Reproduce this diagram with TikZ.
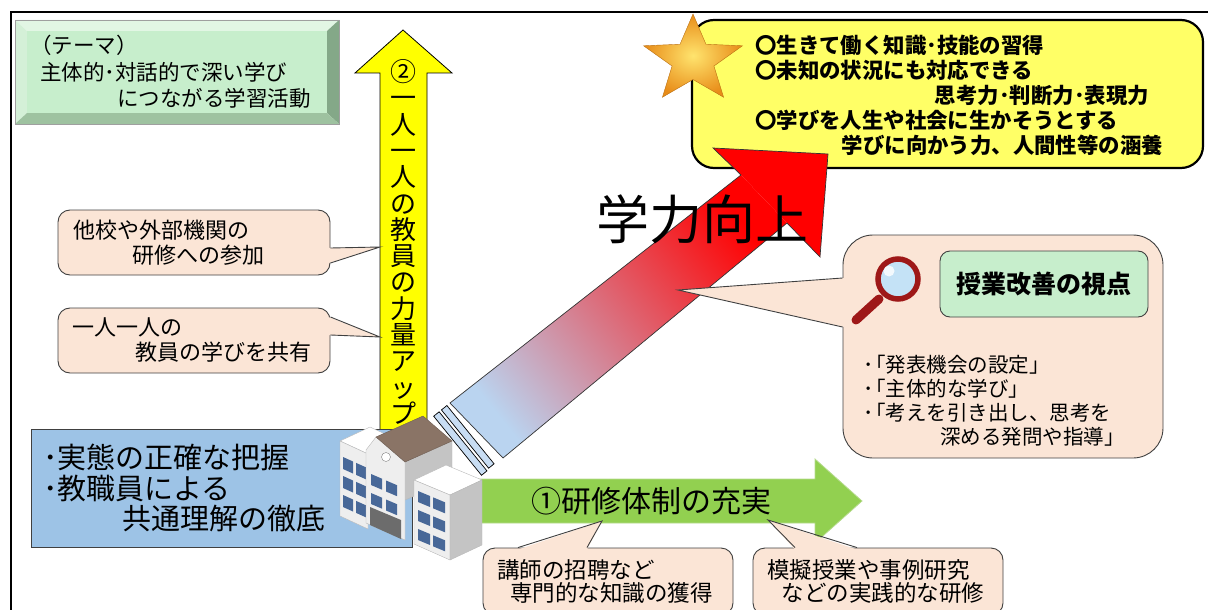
\documentclass[tikz,border=0pt]{standalone}
\usepackage{fontspec}
\setmainfont{Noto Sans CJK JP}
\usetikzlibrary{calc}

\definecolor{peach}{RGB}{251,229,214}
\definecolor{edge}{RGB}{64,64,64}
\definecolor{mint}{RGB}{199,238,204}
\definecolor{mintlight}{RGB}{226,246,228}
\definecolor{mintside}{RGB}{212,240,215}
\definecolor{mintdark}{RGB}{132,168,136}
\definecolor{mintlow}{RGB}{158,194,160}
\definecolor{note}{RGB}{255,255,102}
\definecolor{upyellow}{RGB}{255,255,0}
\definecolor{leaf}{RGB}{146,208,80}
\definecolor{leafedge}{RGB}{182,218,142}
\definecolor{sky}{RGB}{157,195,230}
\definecolor{beamblue}{RGB}{186,212,240}
\definecolor{beammid}{RGB}{214,108,140}
\definecolor{roofbrown}{RGB}{138,116,102}
\definecolor{wallwhite}{RGB}{238,238,238}
\definecolor{wallgrey}{RGB}{196,196,196}
\definecolor{pane}{RGB}{72,104,152}
\definecolor{doorgrey}{RGB}{108,108,108}
\definecolor{loupe}{RGB}{158,24,24}
\definecolor{glass}{RGB}{196,226,246}
\definecolor{stargold}{RGB}{255,228,110}
\definecolor{starorange}{RGB}{232,140,24}

\begin{document}
\begin{tikzpicture}[x=1pt, y=-1pt,
    note/.style={draw=edge, line width=0.9pt, fill=peach, rounded corners=12pt, align=left,
      inner ysep=0pt, font=\fontsize{22}{25}\selectfont},
    tailfill/.style={fill=peach},
    tailline/.style={draw=edge, line width=0.9pt},
    wall/.style={fill=wallwhite, draw=gray!55, line width=0.4pt},
    sidewall/.style={fill=wallgrey, draw=gray!55, line width=0.4pt},
    window/.style={fill=pane},
    stripe/.style={fill=beamblue!80!white, draw=black, line width=0.7pt}
  ]
  \useasboundingbox (0,0) rectangle (1208,610);
  \draw[line width=2.5pt] (1212,12) -- (11,12) -- (11,614);

  % theme plate
  \fill[mintlight] (15,20) -- (339,20) -- (327,31) -- (27,31) -- cycle;
  \fill[mintside] (15,20) -- (27,31) -- (27,113) -- (15,124) -- cycle;
  \fill[mintdark] (339,20) -- (339,124) -- (327,113) -- (327,31) -- cycle;
  \fill[mintlow] (15,124) -- (27,113) -- (327,113) -- (339,124) -- cycle;
  \node[fill=mint, minimum width=300pt, minimum height=82pt, text width=274pt, inner xsep=13pt,
    inner ysep=0pt, align=left, font=\fontsize{21.5}{26.5}\selectfont] (theme) at (177,72)
    {\hspace*{-0.45em}（テーマ）\\主体的･対話的で深い学び\\\hspace*{3.6em}につながる学習活動};
  \draw[edge!50, line width=0.6pt] (15,20) rectangle (339,124);

  % upward arrow
  \filldraw[fill=upyellow, draw=black, line width=0.8pt] (380,430) -- (380,73) -- (355,73) -- (403,30)
    -- (452,73) -- (427,73) -- (427,430) -- cycle;
  \node[align=center, inner sep=0pt, font=\fontsize{26}{26.3}\selectfont] (staff) at (403.5,242)
    {②\\一\\人\\一\\人\\の\\教\\員\\の\\力\\量\\ア\\ッ\\プ};
  \coordinate (tipvisit) at (380,247);
  \coordinate (tipshare) at (380,337);

  \node[note, minimum width=272pt, minimum height=65pt, text width=242pt, inner xsep=15pt] (visit)
    at (194,242.5) {他校や外部機関の\\\hspace*{2.7em}研修への参加};
  \fill[tailfill] ($(visit.east)+(-2,5.5)$) -- (tipvisit) -- ($(visit.east)+(-2,20.5)$) -- cycle;
  \draw[tailline] ($(visit.east)+(0,5.5)$) -- (tipvisit) -- ($(visit.east)+(0,20.5)$);

  \node[note, minimum width=272pt, minimum height=65pt, text width=244pt, inner xsep=14pt] (share)
    at (194,340.5) {一人一人の\\\hspace*{2.9em}教員の学びを共有};
  \fill[tailfill] ($(share.east)+(-2,-23.5)$) -- (tipshare) -- ($(share.east)+(-2,-5.5)$) -- cycle;
  \draw[tailline] ($(share.east)+(0,-23.5)$) -- (tipshare) -- ($(share.east)+(0,-5.5)$);

  \node[draw=edge, line width=0.9pt, fill=sky, minimum width=381pt, minimum height=118pt,
    text width=357pt, inner xsep=12pt, inner ysep=0pt, align=left,
    font=\fontsize{29}{30.5}\selectfont] (fact) at (221.5,488)
    {･実態の正確な把握\\･教職員による\\\hspace*{2.75em}共通理解の徹底};

  % training arrow
  \filldraw[fill=leaf, draw=leafedge, line width=0.8pt] (470,479) -- (815,479) -- (815,459) -- (862,501)
    -- (815,543) -- (815,523) -- (470,523) -- cycle;
  \node[inner sep=0pt, font=\fontsize{30}{30}\selectfont] (train) at (651,501) {①研修体制の充実};

  % goals
  \node[draw=black, line width=2.2pt, fill=note, rounded corners=22pt, minimum width=511pt,
    minimum height=148pt] (goal) at (947.5,94) {};
  \node[anchor=west, inner sep=0pt, align=left, font=\bfseries\fontsize{21.4}{25}\selectfont] (goaltext)
    at (755,95) {〇生きて働く知識･技能の習得\\〇未知の状況にも対応できる\\\hspace*{8.4em}思考力･判断力･表現力\\
    〇学びを人生や社会に生かそうとする\\\hspace*{4.05em}学びに向かう力、人間性等の涵養};
  \shade[inner color=stargold, outer color=starorange, draw=starorange!80!black, line width=0.4pt]
    plot[variable=\k, samples at={0,...,9}]
    ({693+ifthenelse(mod(\k,2)==0,52,22)*cos(90+36*\k)}, {60-ifthenelse(mod(\k,2)==0,46,19.5)*sin(90+36*\k)})
    -- cycle;

  % rising beam
  \shade[top color=red, middle color=beammid, bottom color=beamblue, shading angle=-51]
    (450,403) -- (741,175) -- (787,223) -- (503,458) -- cycle;
  \fill[red] (741,175) -- (713,148) -- (828,154) -- (820,257) -- (787,223) -- cycle;
  \draw[line width=0.7pt, black!80] (503,458) -- (450,403) -- (741,175) -- (713,148) -- (828,154)
    -- (820,257) -- (787,223) -- cycle;
  \begin{scope}[shift={(450,403)}, rotate=39]
    \draw[stripe] (-11,0) rectangle (-4,75);
    \draw[stripe] (-21,0) rectangle (-14,76);
  \end{scope}
  \node[inner sep=0pt, font=\fontsize{53}{53}\selectfont] (rise) at (702,219) {学力向上};

  % viewpoint callout
  \coordinate (tipview) at (678,290);
  \node[note, minimum width=320pt, minimum height=223pt, rounded corners=30pt] (view) at (1003,346.5) {};
  \fill[tailfill] ($(view.west)+(2,-68.5)$) -- (tipview) -- ($(view.west)+(2,-19.5)$) -- cycle;
  \draw[tailline] ($(view.west)+(0,-68.5)$) -- (tipview) -- ($(view.west)+(0,-19.5)$);
  \node[draw=edge, line width=0.9pt, fill=mint, rounded corners=10pt, minimum width=208pt,
    minimum height=66pt, font=\bfseries\fontsize{25}{25}\selectfont] (viewtitle) at (1044,284) {授業改善の視点};
  \node[anchor=west, inner sep=0pt, align=left, font=\fontsize{20.5}{24}\selectfont] (viewlist) at (863,401)
    {･\kern-0.4em「発表機会の設定」\\･\kern-0.4em「主体的な学び」\\･\kern-0.4em「考えを引き出し、思考を\\
    \hspace*{3.75em}深める発問や指導」};
  \draw[loupe, line width=9pt, line cap=round] (879,299) -- (856,320);
  \filldraw[fill=glass, draw=loupe, line width=5.5pt] (898,279) circle[radius=20];
  \fill[white, opacity=0.8] (889,271) circle[radius=5.5];

  % school
  \filldraw[wall, fill=white] (340,441) -- (370,427) -- (398,440) -- (368,454) -- cycle;
  \filldraw[wall] (340,441) -- (368,454) -- (368,529) -- (340,516) -- cycle;
  \foreach \r in {0,1,2}
    \foreach \c in {0,1}
      \fill[window] ({343+13*\c},{457+19*\r+5.85*\c}) -- ++(10,4.5) -- ++(0,12) -- ++(-10,-4.5) -- cycle;
  \filldraw[sidewall] (405,462) -- (452,441) -- (452,480) -- (405,500) -- cycle;
  \filldraw[wall] (366,450) -- (376,437) -- (405,462) -- (405,540) -- (366,523) -- cycle;
  \filldraw[fill=roofbrown, draw=roofbrown!80!black, line width=0.4pt] (376,437) -- (423,416) -- (452,441)
    -- (405,462) -- cycle;
  \foreach \r in {0,1}
    \foreach \c in {0,1}
      \fill[window] ({371+15*\c},{474+19*\r+6.5*\c}) -- ++(11,4.7) -- ++(0,11) -- ++(-11,-4.7) -- cycle;
  \fill[doorgrey] (370,507) -- (401,520) -- (401,539) -- (370,525) -- cycle;
  \filldraw[fill=white, draw=gray] (386,457) circle[radius=4.5];
  \filldraw[wall, fill=white] (414,480) -- (446,465) -- (482,480) -- (450,495) -- cycle;
  \filldraw[wall] (414,480) -- (450,495) -- (450,560) -- (414,544) -- cycle;
  \filldraw[sidewall] (450,495) -- (482,480) -- (482,545) -- (450,560) -- cycle;
  \foreach \r in {0,1,2}
    \foreach \c in {0,1}
      \fill[window] ({418+15*\c},{491+19*\r+6.3*\c}) -- ++(12,5) -- ++(0,11) -- ++(-12,-5) -- cycle;

  % bottom callouts
  \coordinate (tipinvite) at (602,521);
  \coordinate (tippractice) at (768,520);
  \node[note, font=\fontsize{22.5}{23.5}\selectfont, minimum width=250pt, minimum height=67pt,
    text width=222pt, inner xsep=14pt] (invite) at (608,581.5) {講師の招聘など\\\hspace*{0.58em}専門的な知識の獲得};
  \fill[tailfill] ($(invite.north)+(-90,2)$) -- (tipinvite) -- ($(invite.north)+(-21,2)$) -- cycle;
  \draw[tailline] ($(invite.north)+(-90,0)$) -- (tipinvite) -- ($(invite.north)+(-21,0)$);
  \node[note, font=\fontsize{22.5}{23.5}\selectfont, minimum width=250pt, minimum height=67pt,
    text width=222pt, inner xsep=14pt] (practice) at (878,581.5) {模擬授業や事例研究\\\hspace*{0.65em}などの実践的な研修};
  \fill[tailfill] ($(practice.north)+(-83,2)$) -- (tippractice) -- ($(practice.north)+(-21,2)$) -- cycle;
  \draw[tailline] ($(practice.north)+(-83,0)$) -- (tippractice) -- ($(practice.north)+(-21,0)$);
\end{tikzpicture}
\end{document}
